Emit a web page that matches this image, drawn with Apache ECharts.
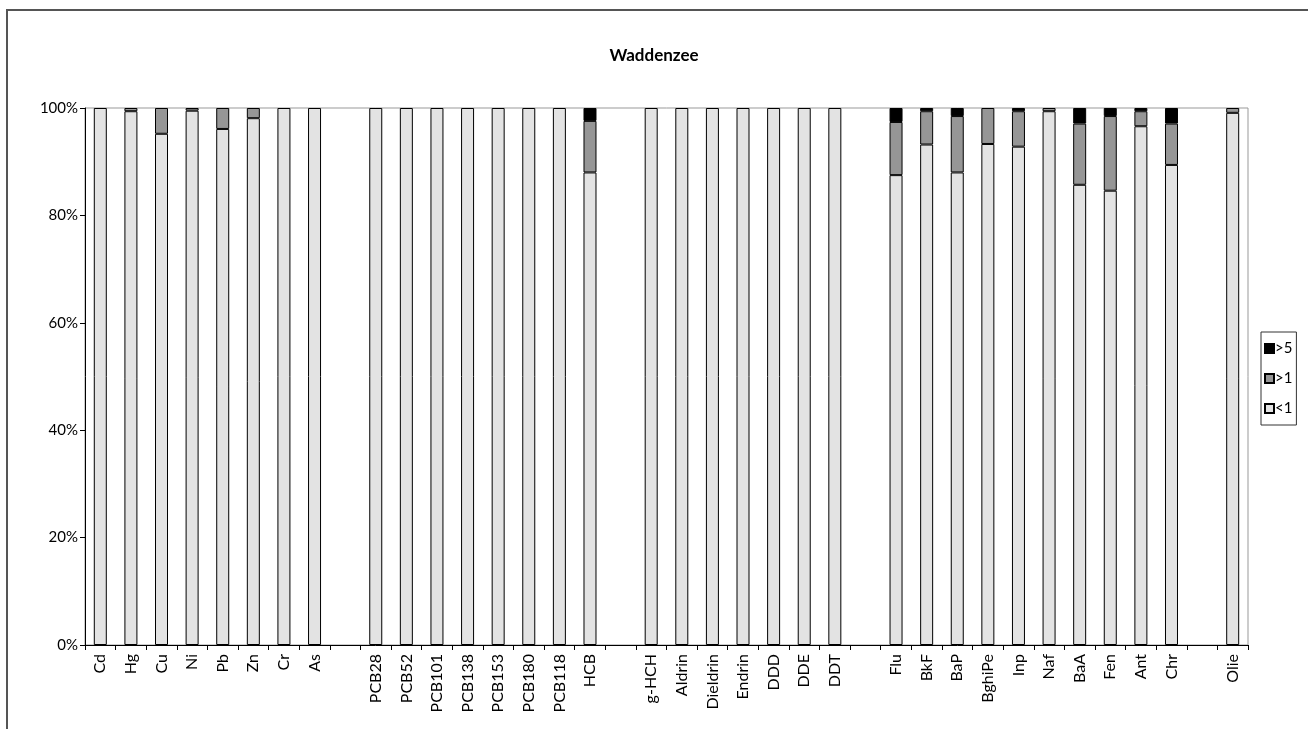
<!DOCTYPE html>
<html>
<head>
<meta charset="utf-8">
<script src="https://cdn.jsdelivr.net/npm/echarts@6/dist/echarts.min.js"></script>
<style>
html,body{margin:0;padding:0;background:#fff;}
#c{width:1308px;height:729px;}
</style>
</head>
<body>
<div id="c"></div>
<script>
const categories = ['Cd','Hg','Cu','Ni','Pb','Zn','Cr','As',' ',
  'PCB28','PCB52','PCB101','PCB138','PCB153','PCB180','PCB118','HCB','  ',
  'g-HCH','Aldrin','Dieldrin','Endrin','DDD','DDE','DDT','   ',
  'Flu','BkF','BaP','BghiPe','Inp','Naf','BaA','Fen','Ant','Chr','    ',
  'Olie'];
const lt1 = [100,99.4,95.2,99.5,96.1,98.1,100,100,null,
  100,100,100,100,100,100,100,88.0,null,
  100,100,100,100,100,100,100,null,
  87.5,93.2,88.0,93.3,92.8,99.4,85.7,84.6,96.6,89.4,null,
  99.1];
const gt1 = [null,0.6,4.8,0.5,3.9,1.9,null,null,null,
  null,null,null,null,null,null,null,9.6,null,
  null,null,null,null,null,null,null,null,
  9.9,6.2,10.5,6.7,6.6,0.6,11.4,13.9,2.8,7.7,null,
  0.9];
const gt5 = [null,null,null,null,null,null,null,null,null,
  null,null,null,null,null,null,null,2.4,null,
  null,null,null,null,null,null,null,null,
  2.6,0.6,1.5,null,0.6,null,2.9,1.5,0.6,2.9,null,
  null];
const yTicks = [0,20,40,60,80,100];

const FONT = 'Lato, "Open Sans", sans-serif';
const chart = echarts.init(document.getElementById('c'), null, {renderer:'canvas'});
const barStyle = (c) => ({color:c, borderColor:'#000', borderWidth:1});
chart.setOption({
  animation:false,
  backgroundColor:'#fff',
  graphic:[{type:'rect', shape:{x:7,y:10,width:1400,height:800},
    style:{fill:'none', stroke:'#555', lineWidth:2}, z:-10}],
  title:{text:'Waddenzee', left:'center', top:42,
    textStyle:{fontFamily:FONT, fontSize:17, fontWeight:'bold', color:'#000'}},
  legend:{orient:'vertical', left:1261, top:332, itemWidth:9, itemHeight:9, itemGap:15, icon:'rect',
    padding:[9,4,9,3], borderColor:'#333', borderWidth:1,
    textStyle:{fontFamily:FONT, fontSize:15, color:'#000', padding:[0,0,0,-4]},
    data:['>5','>1','<1']},
  grid:{left:85, right:60, top:108, bottom:84, show:true, borderColor:'#999', borderWidth:1},
  xAxis:{type:'category', data:categories,
    axisLine:{lineStyle:{color:'#000'}},
    axisTick:{show:true, length:5, lineStyle:{color:'#000'}},
    axisLabel:{rotate:90, interval:0, margin:9, fontFamily:FONT, fontSize:16, color:'#000'}},
  yAxis:{type:'value', min:0, max:100, interval:20,
    axisLine:{show:true, lineStyle:{color:'#000'}},
    axisTick:{show:true, length:5, lineStyle:{color:'#000'}},
    splitLine:{show:false},
    axisLabel:{formatter:(v)=>v+'%', margin:7, fontFamily:FONT, fontSize:15, color:'#000'}},
  series:[
    {name:'<1', type:'bar', stack:'s', data:lt1, barWidth:13, itemStyle:barStyle('#e3e3e3')},
    {name:'>1', type:'bar', stack:'s', data:gt1, barWidth:13, itemStyle:barStyle('#969696')},
    {name:'>5', type:'bar', stack:'s', data:gt5, barWidth:13, itemStyle:barStyle('#000000')}
  ]
});
</script>
</body>
</html>
